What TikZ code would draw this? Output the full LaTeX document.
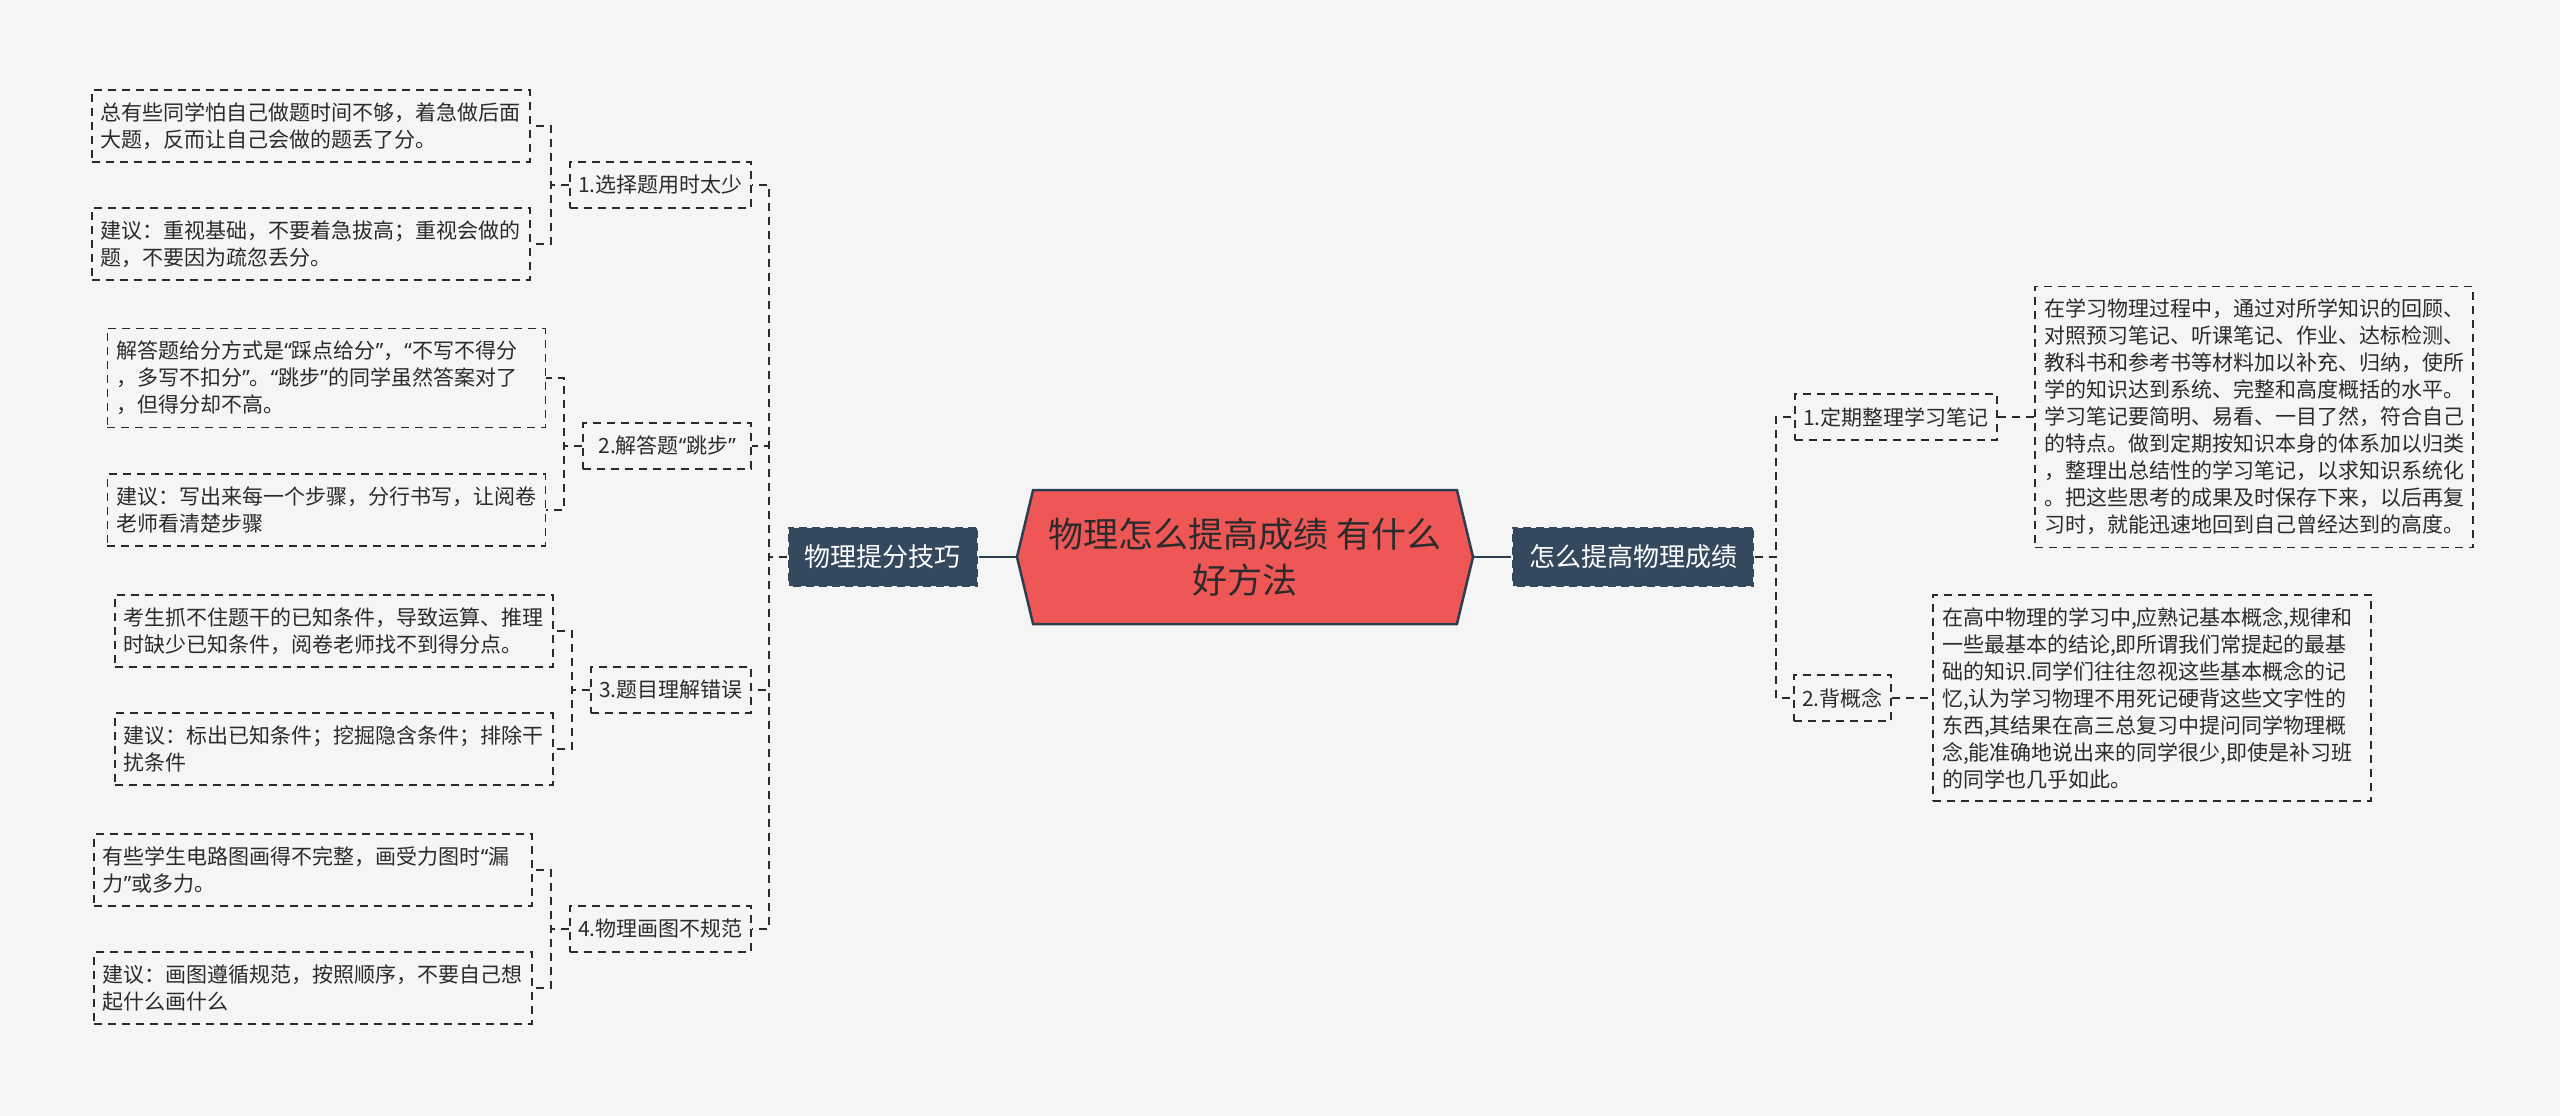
\documentclass[tikz,border=0pt]{standalone}
\usepackage{fontspec}
\setmainfont{Noto Sans CJK SC}
\newfontfamily\quotefont{Noto Sans}
\newcommand{\mmlq}{{\quotefont “}}
\newcommand{\mmrq}{{\quotefont ”}}
\usepackage{xcolor}
\usepackage{tikz}
\usetikzlibrary{positioning, shapes.symbols, backgrounds}
\definecolor{mmBg}{HTML}{F5F5F5}
\definecolor{mmRed}{HTML}{EF5757}
\definecolor{mmNavy}{HTML}{2C3E50}
\definecolor{mmSlate}{HTML}{34495E}
\definecolor{mmInk}{HTML}{2B2B2B}

\begin{document}
\begin{tikzpicture}[
  x=1pt, y=-1pt,
  %% --- Node styles ---
  rootbox/.style={
    signal, signal to=east and west, signal pointer angle=153,
    minimum width=456pt, minimum height=134pt, inner sep=0pt,
    align=center, font=\fontsize{35}{46}\selectfont, text=mmInk,
    fill=mmRed, draw=mmNavy, line width=2.5pt
  },
  branchbox/.style={
    rectangle, inner xsep=17pt, inner ysep=18pt,
    font=\fontsize{26}{30}\selectfont, text=white,
    fill=mmSlate, draw=mmBg, line width=1.6pt, dash pattern=on 5pt off 8pt
  },
  topicbox/.style={
    rectangle, inner xsep=8.5pt, inner ysep=13pt,
    font=\fontsize{21}{26}\selectfont, text=mmInk,
    draw=mmInk, line width=1.8pt, dash pattern=on 8pt off 6pt
  },
  leafbox/.style={
    rectangle, text width=420pt, align=left,
    inner xsep=9pt, inner ysep=12.5pt,
    font=\fontsize{21}{27}\selectfont, text=mmInk,
    draw=mmInk, line width=1.8pt, dash pattern=on 8pt off 6pt
  },
  %% --- Connector styles ---
  trunk/.style={draw=mmNavy, line width=2.5pt},
  link/.style={draw=mmInk, line width=1.8pt, dash pattern=on 8pt off 6pt}
]

\fill[mmBg] (0,0) rectangle (2560,1116);

%% =========================================================
%% ROOT + BRANCHES
%% =========================================================
\node (root) [rootbox] at (1245,557) {物理怎么提高成绩 有什么\\好方法};
\node (lmain) [branchbox, left=37pt of root]  {物理提分技巧};
\node (rmain) [branchbox, right=37pt of root] {怎么提高物理成绩};

%% =========================================================
%% LEFT SIDE
%% =========================================================
\node (sub1) [topicbox, left=35pt of lmain, yshift=372pt]  {1.选择题用时太少};
\node (sub2) [topicbox, left=35pt of lmain, yshift=111pt, minimum width=168pt]
      {2.解答题\mmlq 跳步\mmrq};
\node (sub3) [topicbox, left=35pt of lmain, yshift=-133pt] {3.题目理解错误};
\node (sub4) [topicbox, left=35pt of lmain, yshift=-372pt] {4.物理画图不规范};

\node (l1a) [leafbox, left=38pt of sub1, yshift=59pt]
      {总有些同学怕自己做题时间不够，着急做后面\\大题，反而让自己会做的题丢了分。};
\node (l1b) [leafbox, left=38pt of sub1, yshift=-59pt]
      {建议：重视基础，不要着急拔高；重视会做的\\题，不要因为疏忽丢分。};
\node (l2a) [leafbox, left=36pt of sub2, yshift=68pt]
      {解答题给分方式是\mmlq 踩点给分\mmrq，\mmlq 不写不得分\\，多写不扣分\mmrq。\mmlq 跳步\mmrq 的同学虽然答案对了\\，但得分却不高。};
\node (l2b) [leafbox, left=36pt of sub2, yshift=-64pt]
      {建议：写出来每一个步骤，分行书写，让阅卷\\老师看清楚步骤};
\node (l3a) [leafbox, left=36pt of sub3, yshift=59pt]
      {考生抓不住题干的已知条件，导致运算、推理\\时缺少已知条件，阅卷老师找不到得分点。};
\node (l3b) [leafbox, left=36pt of sub3, yshift=-59pt]
      {建议：标出已知条件；挖掘隐含条件；排除干\\扰条件};
\node (l4a) [leafbox, left=36pt of sub4, yshift=59pt]
      {有些学生电路图画得不完整，画受力图时\mmlq 漏\\力\mmrq 或多力。};
\node (l4b) [leafbox, left=36pt of sub4, yshift=-59pt]
      {建议：画图遵循规范，按照顺序，不要自己想\\起什么画什么};

%% =========================================================
%% RIGHT SIDE
%% =========================================================
\node (r1) [topicbox, right=39pt of rmain, yshift=140pt]  {1.定期整理学习笔记};
\node (r2) [topicbox, right=38pt of rmain, yshift=-141pt] {2.背概念};

\node (r1leaf) [leafbox, right=36pt of r1]
      {在学习物理过程中，通过对所学知识的回顾、\\对照预习笔记、听课笔记、作业、达标检测、\\教科书和参考书等材料加以补充、归纳，使所\\学的知识达到系统、完整和高度概括的水平。\\学习笔记要简明、易看、一目了然，符合自己\\的特点。做到定期按知识本身的体系加以归类\\，整理出总结性的学习笔记，以求知识系统化\\。把这些思考的成果及时保存下来，以后再复\\习时，就能迅速地回到自己曾经达到的高度。};
\node (r2leaf) [leafbox, right=40pt of r2]
      {在高中物理的学习中,应熟记基本概念,规律和\\一些最基本的结论,即所谓我们常提起的最基\\础的知识.同学们往往忽视这些基本概念的记\\忆,认为学习物理不用死记硬背这些文字性的\\东西,其结果在高三总复习中提问同学物理概\\念,能准确地说出来的同学很少,即使是补习班\\的同学也几乎如此。};

%% =========================================================
%% CONNECTORS
%% =========================================================
\draw[trunk] (root.west) -- (lmain.east);
\draw[trunk] (root.east) -- (rmain.west);

\foreach \s in {sub1,sub2,sub3,sub4}
  \draw[link] (lmain.west) -- ++(-18,0) |- (\s.east);

\foreach \s/\a/\b in {sub1/l1a/l1b, sub2/l2a/l2b, sub3/l3a/l3b, sub4/l4a/l4b} {
  \draw[link] (\s.west) -- ++(-18,0) |- (\a.east);
  \draw[link] (\s.west) -- ++(-18,0) |- (\b.east);
}

\draw[link] (rmain.east) -- ++(21,0) |- (r1.west);
\draw[link] (rmain.east) -- ++(21,0) |- (r2.west);
\draw[link] (r1) -- (r1leaf);
\draw[link] (r2) -- (r2leaf);

\end{tikzpicture}
\end{document}
